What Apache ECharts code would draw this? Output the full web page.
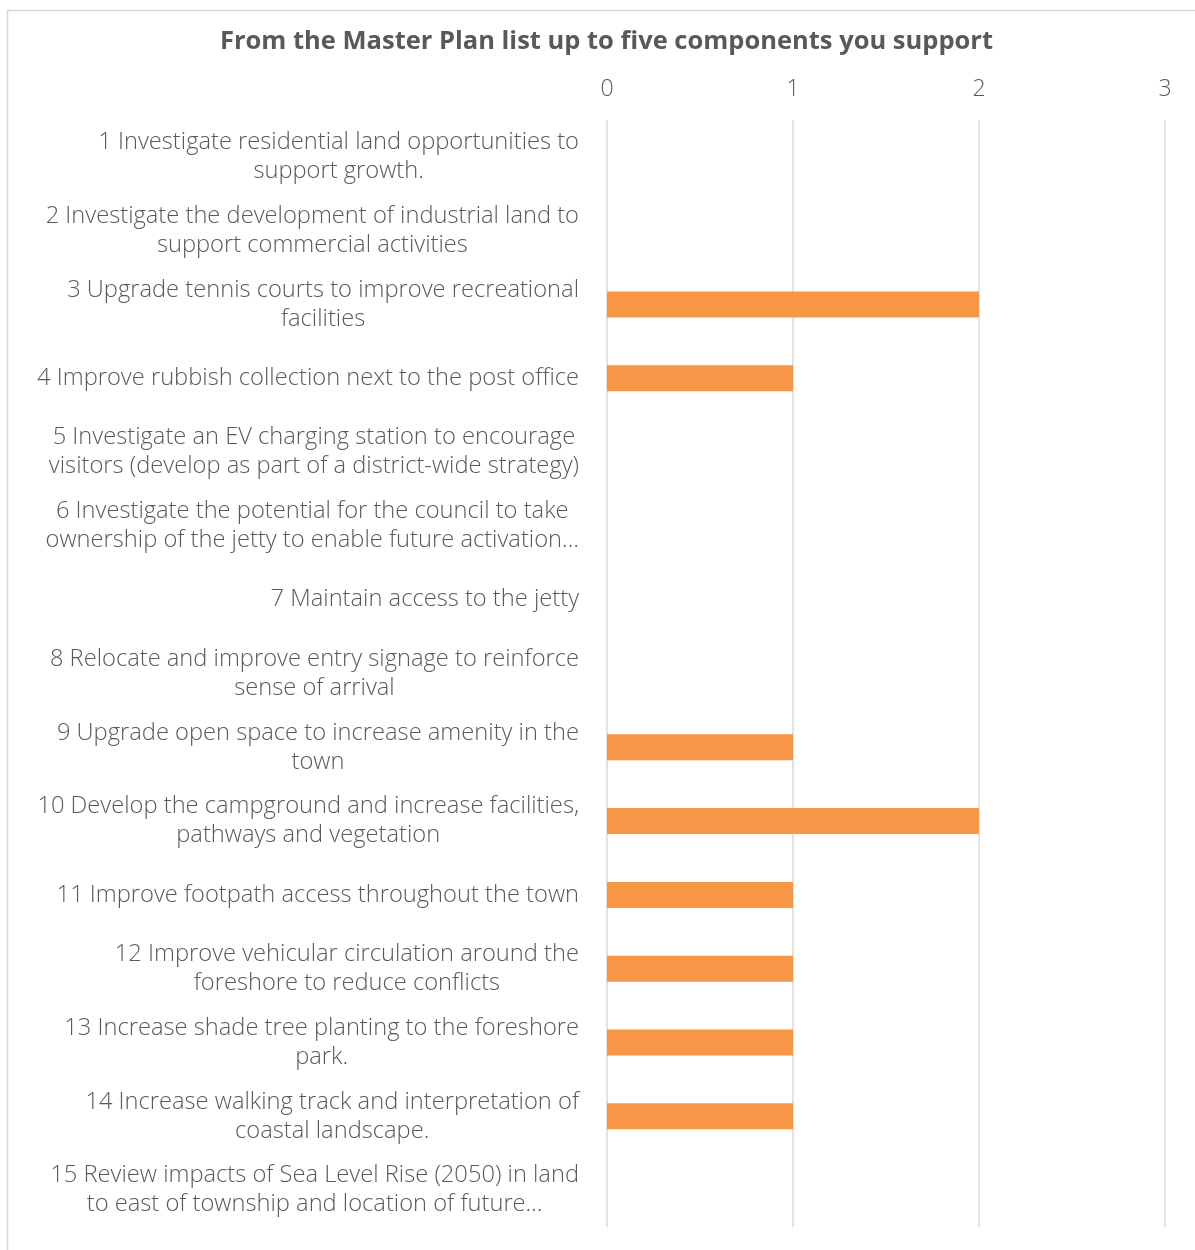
<!DOCTYPE html>
<html>
<head>
<meta charset="utf-8">
<script src="https://cdn.jsdelivr.net/npm/echarts@6/dist/echarts.min.js"></script>
<style>
  html, body { margin: 0; padding: 0; background: #ffffff; }
  #chart { width: 1195px; height: 1250px; }
</style>
</head>
<body>
<div id="chart"></div>
<script>
const titleText = 'From the Master Plan list up to five components you support';

const categories = [
  '1 Investigate residential land opportunities to\nsupport growth.',
  '2 Investigate the development of industrial land to\nsupport commercial activities',
  '3 Upgrade tennis courts to improve recreational\nfacilities',
  '4 Improve rubbish collection next to the post office',
  '5 Investigate an EV charging station to encourage\nvisitors (develop as part of a district-wide strategy)',
  '6 Investigate the potential for the council to take\nownership of the jetty to enable future activation…',
  '7 Maintain access to the jetty',
  '8 Relocate and improve entry signage to reinforce\nsense of arrival',
  '9 Upgrade open space to increase amenity in the\ntown',
  '10 Develop the campground and increase facilities,\npathways and vegetation',
  '11 Improve footpath access throughout the town',
  '12 Improve vehicular circulation around the\nforeshore to reduce conflicts',
  '13 Increase shade tree planting to the foreshore\npark.',
  '14 Increase walking track and interpretation of\ncoastal landscape.',
  '15 Review impacts of Sea Level Rise (2050) in land\nto east of township and location of future…'
];

const supportCounts = [0, 0, 2, 1, 0, 0, 0, 0, 1, 2, 1, 1, 1, 1, 0];

const axisMin = 0;
const axisMax = 3;
const axisStep = 1;

const FONT = '"Open Sans", "Liberation Sans", Arial, sans-serif';
const TEXT_COLOR = '#595959';

const chart = echarts.init(document.getElementById('chart'), null, { renderer: 'canvas' });

chart.setOption({
  backgroundColor: '#ffffff',
  animation: false,
  title: {
    text: titleText,
    left: 215,
    top: 24,
    textStyle: {
      fontFamily: FONT,
      fontSize: 25.5,
      fontWeight: 'bold',
      color: TEXT_COLOR
    }
  },
  graphic: [{
    type: 'rect',
    left: 5,
    top: 8,
    shape: { width: 1200, height: 1260 },
    style: { fill: 'none', stroke: '#d9d9d9', lineWidth: 1.5 },
    silent: true
  }],
  grid: {
    left: 607,
    right: 30,
    top: 120,
    bottom: 23,
    containLabel: false
  },
  xAxis: {
    type: 'value',
    position: 'top',
    min: axisMin,
    max: axisMax,
    interval: axisStep,
    axisLine: { show: false },
    axisTick: { show: false },
    splitLine: { show: true, lineStyle: { color: '#d9d9d9', width: 1.5 } },
    axisLabel: {
      margin: 19,
      fontFamily: FONT,
      fontSize: 23,
      fontWeight: 300,
      color: TEXT_COLOR
    }
  },
  yAxis: {
    type: 'category',
    inverse: true,
    data: categories,
    axisLine: { show: false },
    axisTick: { show: false },
    axisLabel: {
      margin: 28,
      interval: 0,
      align: 'right',
      formatter: function (value) {
        return value.split('\n').map(function (line) { return '{c|' + line + '}'; }).join('\n');
      },
      rich: {
        c: {
          align: 'center',
          fontFamily: FONT,
          fontSize: 23.7,
          fontWeight: 300,
          lineHeight: 29,
          color: TEXT_COLOR
        }
      }
    }
  },
  series: [{
    type: 'bar',
    data: supportCounts,
    barWidth: 26,
    itemStyle: { color: '#F79646' },
    silent: true
  }]
});
</script>
</body>
</html>
